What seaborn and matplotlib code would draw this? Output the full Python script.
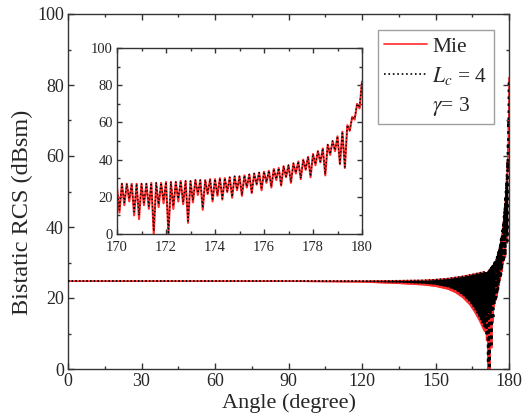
import numpy as np
import pandas as pd
import matplotlib
matplotlib.use("Agg")
import matplotlib.pyplot as plt
from matplotlib.lines import Line2D
from matplotlib.ticker import MultipleLocator
import seaborn as sns

# ---------------- data ----------------
# smooth envelope part of the main plot (0 - 170 deg)
env_angle = [0, 30, 60, 90, 120, 135, 145, 150, 155, 158, 161, 164, 166, 168, 170]
lc_env_hi = [24.8, 24.8, 24.8, 24.8, 24.8, 24.9, 25.0, 25.2, 25.5, 25.8, 26.1, 26.5, 26.8, 27.1, 27.4]
lc_env_lo = [24.8, 24.8, 24.8, 24.8, 24.7, 24.5, 24.2, 23.9, 23.2, 22.4, 21.0, 19.0, 17.0, 14.5, 11.5]
mie_env_hi = [24.8, 24.8, 24.8, 24.8, 24.8, 24.9, 25.0, 25.2, 25.5, 25.8, 26.1, 26.5, 26.8, 27.1, 27.4]
mie_env_lo = [24.7, 24.7, 24.7, 24.7, 24.5, 24.1, 23.7, 23.3, 22.5, 21.6, 20.2, 18.1, 16.0, 13.5, 10.5]

# oscillating part 170 - 180 deg (peaks at even tenths, troughs at odd tenths)
osc_angle = [
    170.0, 170.1, 170.2, 170.3, 170.4, 170.5, 170.6, 170.7, 170.8, 170.9,
    171.0, 171.1, 171.2, 171.3, 171.4, 171.5, 171.6, 171.7, 171.8, 171.9,
    172.0, 172.1, 172.2, 172.3, 172.4, 172.5, 172.6, 172.7, 172.8, 172.9,
    173.0, 173.1, 173.2, 173.3, 173.4, 173.5, 173.6, 173.7, 173.8, 173.9,
    174.0, 174.1, 174.2, 174.3, 174.4, 174.5, 174.6, 174.7, 174.8, 174.9,
    175.0, 175.1, 175.2, 175.3, 175.4, 175.5, 175.6, 175.7, 175.8, 175.9,
    176.0, 176.1, 176.2, 176.3, 176.4, 176.5, 176.6, 176.7, 176.8, 176.9,
    177.0, 177.1, 177.2, 177.3, 177.4, 177.5, 177.6, 177.7, 177.8, 177.9,
    178.0, 178.1, 178.2, 178.3, 178.4, 178.5, 178.6, 178.7, 178.8, 178.9,
    179.0, 179.1, 179.2, 179.3, 179.4, 179.5, 179.6, 179.7, 179.8, 179.9,
    180.0]
osc_lc = [
    25.0, 13.0, 27.0, 17.0, 27.0, 19.0, 27.0, 12.0, 27.0, 10.0,
    27.0, 17.0, 27.0, 15.0, 27.5, 1.5, 27.5, 16.0, 27.5, 18.0,
    28.0, 0.0, 28.0, 15.0, 28.0, 19.0, 28.5, 17.0, 28.5, 7.0,
    28.5, 18.0, 29.0, 22.0, 29.0, 14.0, 29.0, 22.0, 29.5, 18.0,
    29.5, 21.0, 30.0, 19.0, 30.0, 23.0, 30.5, 20.0, 31.0, 24.0,
    31.0, 21.0, 31.5, 25.5, 32.0, 22.5, 32.5, 27.0, 33.0, 24.0,
    33.5, 28.0, 34.0, 25.5, 35.0, 29.5, 35.5, 26.5, 36.5, 31.0,
    37.0, 28.0, 38.0, 33.0, 39.0, 30.0, 40.0, 35.0, 41.5, 31.0,
    43.0, 37.5, 44.5, 39.0, 46.0, 32.0, 48.0, 43.0, 50.0, 45.0,
    52.5, 38.0, 55.0, 36.0, 58.5, 56.0, 63.0, 62.0, 70.0, 68.0,
    82.0]
osc_mie = [
    25.0, 11.5, 27.0, 15.5, 27.0, 17.5, 27.0, 10.0, 27.0, 8.0,
    27.0, 15.5, 27.0, 13.5, 27.5, 0.0, 27.5, 14.5, 27.5, 16.5,
    28.0, 0.0, 28.0, 13.5, 28.0, 17.5, 28.5, 16.0, 28.5, 6.0,
    28.5, 17.0, 29.0, 21.0, 29.0, 13.0, 29.0, 21.5, 29.5, 17.5,
    29.5, 20.5, 30.0, 18.5, 30.0, 22.5, 30.5, 19.5, 31.0, 23.5,
    31.0, 20.5, 31.5, 25.0, 32.0, 22.0, 32.5, 26.5, 33.0, 23.5,
    33.5, 27.5, 34.0, 25.0, 35.0, 29.0, 35.5, 26.0, 36.5, 30.5,
    37.0, 27.5, 38.0, 32.5, 39.0, 29.5, 40.0, 34.5, 41.5, 30.5,
    43.0, 37.0, 44.5, 38.5, 46.0, 31.5, 48.0, 42.5, 50.0, 44.5,
    52.5, 37.5, 55.0, 35.5, 58.5, 55.5, 63.0, 61.5, 70.0, 67.5,
    82.0]

x_ticks_main = [0, 30, 60, 90, 120, 150, 180]
y_ticks_main = [0, 20, 40, 60, 80, 100]
x_ticks_inset = [170, 172, 174, 176, 178, 180]
y_ticks_inset = [0, 20, 40, 60, 80, 100]

# ---------------- style ----------------
sns.set_theme(style="ticks")
plt.rcParams["font.family"] = ["Liberation Serif", "DejaVu Serif"]
plt.rcParams["mathtext.fontset"] = "stix"
plt.rcParams["xtick.direction"] = "in"
plt.rcParams["ytick.direction"] = "in"

RED = "#ff2a2a"
SPINE = "#333333"

env = pd.DataFrame({"angle": env_angle, "lc_hi": lc_env_hi, "lc_lo": lc_env_lo,
                    "mie_hi": mie_env_hi, "mie_lo": mie_env_lo})
osc = pd.DataFrame({"angle": osc_angle, "lc": osc_lc, "mie": osc_mie})

fig = plt.figure(figsize=(5.29, 4.16), dpi=100)
ax = fig.add_axes([68 / 529, 1 - 369 / 416, 441 / 529, 355 / 416])


def style_axes(a, lw=1.0, labelsize=13):
    for s in a.spines.values():
        s.set_visible(True)
        s.set_color(SPINE)
        s.set_linewidth(lw)
    a.tick_params(which="both", direction="in", top=True, right=True,
                  color=SPINE, labelsize=labelsize, pad=3)
    a.tick_params(which="major", length=4.5, width=lw)
    a.tick_params(which="minor", length=2.5, width=lw)


# main plot: envelope region
ax.fill_between(env["angle"], env["mie_lo"], env["mie_hi"], color=RED, lw=0, zorder=1)
sns.lineplot(data=env, x="angle", y="mie_lo", ax=ax, color=RED, lw=0.9, zorder=2)
sns.lineplot(data=env, x="angle", y="mie_hi", ax=ax, color=RED, lw=0.9, zorder=2)
ax.fill_between(env["angle"], env["lc_lo"], env["lc_hi"], color="black", lw=0, zorder=3)
sns.lineplot(data=env, x="angle", y="lc_lo", ax=ax, color="black", lw=1.0, ls=":", zorder=4)
sns.lineplot(data=env, x="angle", y="lc_hi", ax=ax, color="black", lw=1.0, ls=":", zorder=4)
# main plot: oscillating region
sns.lineplot(data=osc, x="angle", y="mie", ax=ax, color=RED, lw=1.2, zorder=2, sort=False)
sns.lineplot(data=osc, x="angle", y="lc", ax=ax, color="black", lw=1.9, ls=":", zorder=4, sort=False)

ax.set_xlim(0, 180)
ax.set_ylim(0, 100)
ax.set_xticks(x_ticks_main)
ax.set_yticks(y_ticks_main)
ax.xaxis.set_minor_locator(MultipleLocator(15))
ax.yaxis.set_minor_locator(MultipleLocator(10))
style_axes(ax, labelsize=13)
ax.set_xlabel("Angle (degree)", fontsize=16, labelpad=2)
ax.set_ylabel("Bistatic RCS (dBsm)", fontsize=17.5)
ax.yaxis.set_label_coords(-0.08, 0.44)

handles = [Line2D([], [], color=RED, lw=1.2),
           Line2D([], [], color="black", lw=1.2, ls=":"),
           Line2D([], [], ls="none")]
labels = ["Mie", r"$L_c$ = 4", r"$\gamma$= 3"]
leg = ax.legend(handles, labels, loc="upper right", bbox_to_anchor=(0.966, 0.955),
                borderaxespad=0, fontsize=15.5, frameon=True, fancybox=False,
                handlelength=2.0, handletextpad=0.25, borderpad=0.3,
                labelspacing=0.38)
leg.get_frame().set_edgecolor("#888888")
leg.get_frame().set_linewidth(1.0)

# inset
axin = fig.add_axes([117 / 529, 1 - 234 / 416, 245 / 529, 186 / 416])
axin.set_facecolor("white")
sns.lineplot(data=osc, x="angle", y="mie", ax=axin, color=RED, lw=1.5, sort=False)
sns.lineplot(data=osc, x="angle", y="lc", ax=axin, color="black", lw=1.0, ls=":", sort=False)
axin.set_xlim(170, 180)
axin.set_ylim(0, 100)
axin.set_xticks(x_ticks_inset)
axin.set_yticks(y_ticks_inset)
axin.xaxis.set_minor_locator(MultipleLocator(1))
axin.yaxis.set_minor_locator(MultipleLocator(10))
style_axes(axin, labelsize=10.5)
axin.tick_params(which="major", length=3.5)
axin.tick_params(which="minor", length=2)
axin.tick_params(axis="x", pad=5)
axin.set_xlabel("")
axin.set_ylabel("")

fig.savefig("out.png", dpi=100)
